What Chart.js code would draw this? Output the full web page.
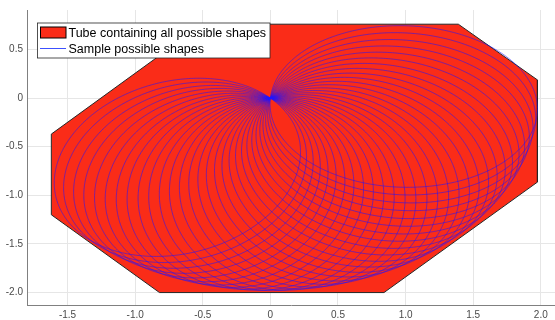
<!DOCTYPE html>
<html>
<head>
<meta charset="utf-8">
<script src="https://cdn.jsdelivr.net/npm/chart.js@4.4.0/dist/chart.umd.min.js"></script>
<style>
  html, body { margin: 0; padding: 0; background: #fff; }
</style>
</head>
<body>
<canvas id="grafico" width="555" height="320"></canvas>
<script>
// tube (octagon), upper and lower edge
var tuboArribaX = [-1.62, -0.5, 1.39, 1.975];
var tuboArribaY = [-0.37, 0.76, 0.76, 0.187];
var tuboAbajoX  = [-1.62, -0.82, 0.84, 1.975];
var tuboAbajoY  = [-1.2, -2.0, -2.0, -0.864];

// sample shapes: one ellipse held by its tip at the origin, turned to these angles (deg)
var semiEjeA = 0.99;
var semiEjeB = 0.83;
var angulos = [226, 230.4, 234.9, 239.3, 243.8, 248.2, 252.7, 257.1, 261.6, 266,
               270.5, 274.9, 279.4, 283.8, 288.3, 292.7, 297.2, 301.6, 306.1, 310.5,
               315, 319.4, 323.9, 328.3, 332.8, 337.2, 341.7, 346.1, 350.6, 355];

var xTicks = [-1.5, -1, -0.5, 0, 0.5, 1, 1.5, 2];
var yTicks = [-2, -1.5, -1, -0.5, 0, 0.5];
var leyenda = ['Tube containing all possible shapes', 'Sample possible shapes'];

var colorTubo = 'rgb(250,44,24)';
var colorForma = 'rgba(30,20,255,0.8)';

function puntos(xs, ys)
{
  var p = [];
  for (var i = 0; i < xs.length; i++) {
    p.push({x: xs[i], y: ys[i]});
  }
  return p;
}

function elipse(grados)
{
  var f = grados * Math.PI / 180;
  var p = [];
  for (var k = 0; k <= 160; k++) {
    var t = k * 2 * Math.PI / 160;
    var u = semiEjeA + semiEjeA * Math.cos(t);
    var v = semiEjeB * Math.sin(t);
    p.push({x: Math.cos(f) * u - Math.sin(f) * v, y: Math.sin(f) * u + Math.cos(f) * v});
  }
  return p;
}

var contorno = puntos(tuboArribaX, tuboArribaY)
  .concat(puntos(tuboAbajoX, tuboAbajoY).reverse());
contorno.push(contorno[0]);

var datasets = [
  {
    label: 'tubo arriba',
    data: puntos(tuboArribaX, tuboArribaY),
    backgroundColor: colorTubo,
    borderWidth: 0,
    pointRadius: 0,
    fill: '+1',
    order: 5
  },
  {
    label: 'tubo abajo',
    data: puntos(tuboAbajoX, tuboAbajoY),
    borderWidth: 0,
    pointRadius: 0,
    fill: false,
    order: 5
  },
  {
    label: 'contorno',
    data: contorno,
    borderColor: '#262626',
    borderWidth: 1,
    pointRadius: 0,
    fill: false,
    order: 4
  }
];

angulos.forEach(function(a){
  datasets.push({
    label: 'forma ' + a,
    data: elipse(a),
    borderColor: colorForma,
    borderWidth: 0.7,
    pointRadius: 0,
    tension: 0.01,
    fill: false,
    order: 1
  });
});

var leyendaCaja = {
  id: 'leyendaCaja',
  afterDraw: function(chart) {
    var ctx = chart.ctx;
    ctx.save();
    ctx.fillStyle = '#fff';
    ctx.strokeStyle = '#262626';
    ctx.lineWidth = 0.8;
    ctx.fillRect(37.5, 23, 232.5, 35);
    ctx.strokeRect(37.5, 23, 232.5, 35);

    ctx.fillStyle = colorTubo;
    ctx.fillRect(40.5, 27, 25.5, 11);
    ctx.strokeStyle = '#000';
    ctx.lineWidth = 1;
    ctx.strokeRect(40.5, 27, 25.5, 11);

    ctx.strokeStyle = 'rgb(60,80,255)';
    ctx.beginPath();
    ctx.moveTo(40, 48.5);
    ctx.lineTo(66, 48.5);
    ctx.stroke();

    ctx.fillStyle = '#000';
    ctx.font = '12.5px "Liberation Sans", Arial, sans-serif';
    ctx.textBaseline = 'alphabetic';
    ctx.fillText(leyenda[0], 68.5, 37.3);
    ctx.fillText(leyenda[1], 68.5, 53.3);
    ctx.restore();
  }
};

var grafico = new Chart(document.getElementById('grafico').getContext('2d'), {
  type: 'line',
  data: { datasets: datasets },
  options: {
    responsive: false,
    animation: false,
    layout: { padding: { top: 7.5, left: 0, right: 0, bottom: 0 } },
    plugins: {
      legend: { display: false },
      tooltip: { enabled: false }
    },
    scales: {
      x: {
        type: 'linear',
        min: -1.8,
        max: 2.105,
        afterBuildTicks: function(s) { s.ticks = xTicks.map(function(v){ return {value: v}; }); },
        afterFit: function(s) { s.height = 14.5; },
        grid: { color: '#e6e6e6', drawTicks: false },
        border: { color: '#808080', width: 1 },
        ticks: {
          padding: 4,
          color: '#4a4a4a',
          font: { family: '"Liberation Sans", Arial, sans-serif', size: 10 },
          maxRotation: 0
        }
      },
      y: {
        type: 'linear',
        min: -2.133,
        max: 0.906,
        afterBuildTicks: function(s) { s.ticks = yTicks.map(function(v){ return {value: v}; }); },
        afterFit: function(s) { s.width = 27; },
        grid: { color: '#e6e6e6', drawTicks: false },
        border: { color: '#808080', width: 1 },
        ticks: {
          padding: 4,
          color: '#4a4a4a',
          font: { family: '"Liberation Sans", Arial, sans-serif', size: 10 }
        }
      }
    }
  },
  plugins: [leyendaCaja]
});
</script>
</body>
</html>
